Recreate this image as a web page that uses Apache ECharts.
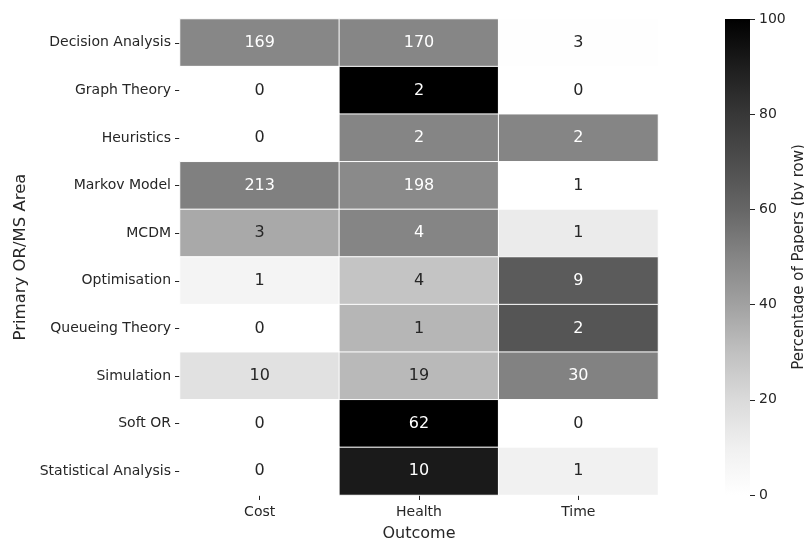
<!DOCTYPE html>
<html>
<head>
<meta charset="utf-8">
<script src="https://cdn.jsdelivr.net/npm/echarts@6/dist/echarts.min.js"></script>
<style>html,body{margin:0;padding:0;background:#fff;}#c{width:804px;height:540px;}</style>
</head>
<body>
<div id="c"></div>
<script>
const areas = ['Decision Analysis','Graph Theory','Heuristics','Markov Model','MCDM','Optimisation','Queueing Theory','Simulation','Soft OR','Statistical Analysis'];
const outcomes = ['Cost','Health','Time'];
const costCounts = [169,0,0,213,3,1,0,10,0,0];
const healthCounts = [170,2,2,198,4,4,1,19,62,10];
const timeCounts = [3,0,2,1,1,9,2,30,0,1];
const colorbarTicks = [0,20,40,60,80,100];

const cols = [costCounts, healthCounts, timeCounts];
const data = [];
areas.forEach((a, r) => {
  const total = cols.reduce((s, c) => s + c[r], 0);
  cols.forEach((c, ci) => {
    const pct = total ? c[r] / total * 100 : 0;
    data.push({value: [ci, r, pct, c[r]], label: {color: pct > 45 ? '#ffffff' : '#262626'}});
  });
});

const FONT = 'DejaVu Sans';
const greys = ['#ffffff','#f0f0f0','#dadada','#c0c0c0','#a1a1a1','#858585','#666666','#4d4d4d','#373737','#1d1d1d','#000000'];
const gradStops = greys.map((c, i) => ({offset: 1 - i / (greys.length - 1), color: c})).reverse();

const chart = echarts.init(document.getElementById('c'), null, {renderer: 'canvas'});
chart.setOption({
  animation: false,
  backgroundColor: '#ffffff',
  textStyle: {fontFamily: FONT},
  grid: [
    {left: 180, top: 19, width: 478, height: 476, outerBoundsMode: 'none', containLabel: false},
    {left: 725, top: 19, width: 25, height: 476, outerBoundsMode: 'none', containLabel: false}
  ],
  xAxis: [
    {type: 'category', data: outcomes, gridIndex: 0,
     axisLine: {show: false, onZero: false}, splitLine: {show: false},
     axisTick: {show: true, alignWithLabel: true, length: 5, lineStyle: {color: '#262626'}},
     axisLabel: {fontSize: 14, color: '#262626', margin: 10, fontFamily: FONT},
     name: 'Outcome', nameLocation: 'middle', nameGap: 31,
     nameTextStyle: {fontSize: 16, color: '#262626', fontFamily: FONT, verticalAlign: 'top'}},
    {type: 'value', gridIndex: 1, show: false, min: 0, max: 1}
  ],
  yAxis: [
    {type: 'category', data: areas, inverse: true, gridIndex: 0,
     axisLine: {show: false, onZero: false}, splitLine: {show: false},
     axisTick: {show: true, alignWithLabel: true, length: 5, lineStyle: {color: '#262626'}},
     axisLabel: {fontSize: 14, color: '#262626', margin: 9, fontFamily: FONT},
     name: 'Primary OR/MS Area', nameLocation: 'middle', nameGap: 151, nameRotate: 90,
     nameTextStyle: {fontSize: 16.5, color: '#262626', fontFamily: FONT}},
    {type: 'value', gridIndex: 1, min: 0, max: 100, interval: 20, position: 'right',
     axisLine: {show: false, onZero: false}, splitLine: {show: false},
     axisTick: {show: true, length: 5, lineStyle: {color: '#262626'}},
     axisLabel: {fontSize: 14, color: '#262626', margin: 9, fontFamily: FONT,
       customValues: colorbarTicks},
     name: 'Percentage of Papers (by row)', nameLocation: 'middle', nameGap: 42, nameRotate: 90,
     nameTextStyle: {fontSize: 15, color: '#262626', fontFamily: FONT}}
  ],
  visualMap: {
    type: 'continuous', min: 0, max: 100, dimension: 2, seriesIndex: 0,
    show: false,
    inRange: {color: greys}
  },
  graphic: [{
    type: 'rect', left: 725, top: 19, silent: true, z: -1,
    shape: {width: 25, height: 476},
    style: {fill: new echarts.graphic.LinearGradient(0, 0, 0, 1, gradStops)}
  }],
  series: [
    {type: 'heatmap', xAxisIndex: 0, yAxisIndex: 0, data: data,
     itemStyle: {borderColor: '#ffffff', borderWidth: 1},
     label: {show: true, fontSize: 16, fontFamily: FONT,
       formatter: p => String(p.value[3])},
     emphasis: {disabled: true}},
    {type: 'line', xAxisIndex: 1, yAxisIndex: 1, data: [], silent: true}
  ]
});
</script>
</body>
</html>
